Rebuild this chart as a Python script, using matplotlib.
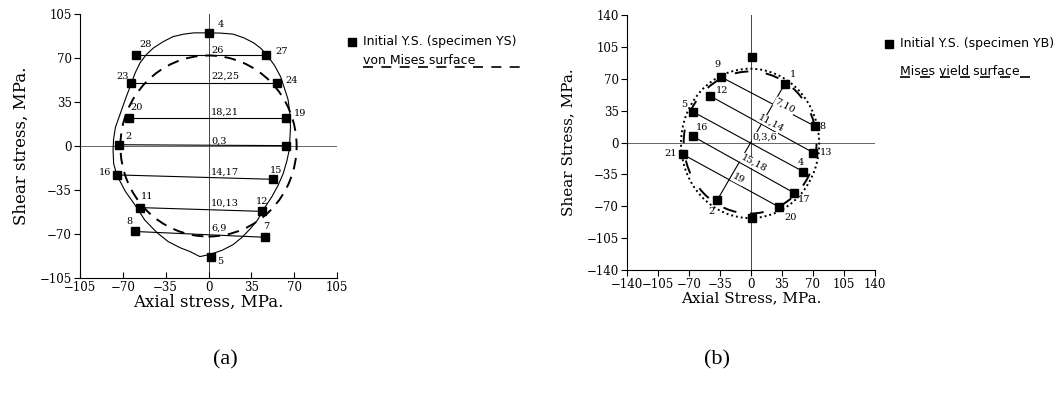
import matplotlib.pyplot as plt
from matplotlib.patches import Ellipse
from matplotlib.lines import Line2D

# ---- panel (a): specimen YS ----
a_ids = ['4', '28', '27', '23', '24', '20', '19', '2', '', '16', '15', '11', '12', '8', '7', '5']
a_x = [0, -59, 47, -63, 56, -65, 63, -73, 63, -75, 53, -56, 44, -60, 46, 2]
a_y = [90, 72, 72, 50, 50, 22.5, 22.5, 1, 0.3, -23, -26.5, -49, -52, -68, -72.6, -88]
a_off = [(12, 8), (9, 11), (16, 4), (-9, 7), (15, 3), (8, 10), (14, 4), (9, 8), (0, 0),
         (-12, 2), (3, 9), (7, 11), (0, 10), (-6, 10), (1, 11), (9, -5)]
a_pairs = [(1, 2), (3, 4), (5, 6), (7, 8), (9, 10), (11, 12), (13, 14)]
a_path_labels = ['26', '22,25', '18,21', '0,3', '14,17', '10,13', '6,9']
a_path_label_y = [76, 55.5, 27, 4, -20.5, -45.5, -65.5]
# fitted initial yield surface
a_surf_x = [0, 10, 20, 29, 37, 43, 48, 54, 59, 62, 65, 66.5, 67, 66.5, 66, 64, 61, 57, 52,
            46, 40, 34, 27, 20, 11, 2, -7, -15, -23, -33, -42, -52, -60, -68, -75, -77.5,
            -78, -77.5, -76, -72, -68, -63, -60, -56, -51, -45, -37, -29, -20, -12, -5, 0]
a_surf_y = [90, 89.8, 89, 86, 82, 77.5, 72, 64, 55, 46, 37, 26, 15, 6, -3, -12, -22, -31, -40,
            -49, -59, -66, -73, -78.5, -83, -86, -88, -84, -81, -76, -69, -59, -47, -36, -23, -14,
            -3, 6, 15, 26, 37, 50, 58, 66, 72.5, 78, 83, 87, 89, 90, 90, 90]
a_mises_r = 72

# ---- panel (b): specimen YB ----
b_ids = ['', '9', '1', '12', '5', '16', '21', '8', '13', '4', '17', '2', '20', '']
b_x = [1, -34, 38, -46, -66, -66, -77, 72, 70, 59, 48, -38, 32, 1]
b_y = [94, 72, 64, 51, 34, 7, -13, 18, -11, -32, -55, -63, -71, -83]
b_off = [(0, 0), (-3, 12), (8, 10), (12, 6), (-8, 7), (9, 9), (-12, 1), (8, 0), (13, 0),
         (-2, 9), (11, -7), (-6, -12), (11, -10), (0, 0)]
b_pairs = [(1, 7), (3, 8), (4, 9), (5, 10), (6, 12), (2, 11)]
b_path_labels = ['7,10', '11,14', '0,3,6', '15,18', '19']
b_path_lx = [38, 23, 16, 3, -14]
b_path_ly = [40, 21, 6, -23, -40]
b_path_rot = [-28, -28, 0, -28, -28]

serif = 'DejaVu Serif'
sans = 'DejaVu Sans'

fig = plt.figure(figsize=(10.53, 3.99), dpi=100)


def style_axes(ax, lim, step, xdir):
    ax.set_xlim(-lim, lim)
    ax.set_ylim(-lim, lim)
    ticks = list(range(-lim, lim + 1, step))
    ax.set_xticks(ticks)
    ax.set_yticks(ticks)
    ax.set_xticklabels([str(t).replace('-', '\u2212') for t in ticks], family=serif, fontsize=8.5)
    ax.set_yticklabels([str(t).replace('-', '\u2212') for t in ticks], family=serif, fontsize=8.5)
    for s in ['top', 'right']:
        ax.spines[s].set_visible(False)
    for s in ['left', 'bottom']:
        ax.spines[s].set_linewidth(0.8)
    ax.tick_params(axis='x', direction=xdir, length=4, width=0.8, pad=2)
    ax.tick_params(axis='y', direction='out', length=4, width=0.8, pad=2)
    ax.axhline(0, color='#666666', lw=0.7, zorder=1)
    ax.axvline(0, color='#444444', lw=0.7, zorder=1)


# panel (a)
ax1 = fig.add_axes([80 / 1053, 1 - 278 / 399, 257 / 1053, 264 / 399])
style_axes(ax1, 105, 35, 'in')
ax1.plot(a_surf_x, a_surf_y, color='black', lw=0.8, zorder=2)
ax1.add_patch(Ellipse((0, 0), 2 * a_mises_r, 2 * a_mises_r, fill=False, ls=(0, (6, 4)),
                      lw=1.4, color='black', zorder=2))
for i, j in a_pairs:
    ax1.plot([a_x[i], a_x[j]], [a_y[i], a_y[j]], color='black', lw=0.8, zorder=2)
ax1.plot(a_x, a_y, 's', color='black', ms=5.5, zorder=3)
for k, lab in enumerate(a_ids):
    if lab:
        ax1.annotate(lab, (a_x[k], a_y[k]), xytext=a_off[k], textcoords='offset pixels',
                     family=serif, fontsize=7, ha='center', va='center')
for lab, yy in zip(a_path_labels, a_path_label_y):
    ax1.text(2, yy, lab, family=serif, fontsize=7, ha='left', va='center')
ax1.set_xlabel('Axial stress, MPa.', family=serif, fontsize=12, labelpad=0)
ax1.set_ylabel('Shear stress, MPa.', family=serif, fontsize=12, labelpad=7)

# panel (b)
ax2 = fig.add_axes([627 / 1053, 1 - 270 / 399, 248 / 1053, 255 / 399])
style_axes(ax2, 140, 35, 'out')
ax2.add_patch(Ellipse((-1, -1), 156, 164, fill=False, ls=(0, (1, 1.5)), lw=1.4,
                      color='black', zorder=2))
ax2.add_patch(Ellipse((-1, 0), 150, 156, fill=False, ls=(0, (7, 9)), lw=1.4,
                      color='black', zorder=2))
for i, j in b_pairs:
    ax2.plot([b_x[i], b_x[j]], [b_y[i], b_y[j]], color='black', lw=0.8, zorder=2)
ax2.plot(b_x, b_y, 's', color='black', ms=5.5, zorder=3)
for k, lab in enumerate(b_ids):
    if lab:
        ax2.annotate(lab, (b_x[k], b_y[k]), xytext=b_off[k], textcoords='offset pixels',
                     family=serif, fontsize=7, ha='center', va='center')
for lab, xx, yy, rot in zip(b_path_labels, b_path_lx, b_path_ly, b_path_rot):
    ax2.text(xx, yy, lab, family=serif, fontsize=7, ha='center', va='center', rotation=rot,
             bbox=dict(fc='white', ec='none', pad=0.3))
ax2.set_xlabel('Axial Stress, MPa.', family=serif, fontsize=11, labelpad=0)
ax2.set_ylabel('Shear Stress, MPa.', family=serif, fontsize=11, labelpad=8)

# overlay in pixel coordinates for legends and panel captions
ov = fig.add_axes([0, 0, 1, 1], zorder=-1)
ov.set_xlim(0, 1053)
ov.set_ylim(399, 0)
ov.axis('off')

ov.plot([352], [42], 's', color='black', ms=5.5)
ov.text(363, 42, 'Initial Y.S. (specimen YS)', family=sans, fontsize=9, va='center')
ov.text(363, 61, 'von Mises surface', family=sans, fontsize=9, va='center')
ov.add_line(Line2D([363, 520], [67, 67], color='black', lw=1.2, ls=(0, (6, 5))))

ov.plot([889], [44], 's', color='black', ms=5.5)
ov.text(900, 44, 'Initial Y.S. (specimen YB)', family=sans, fontsize=9, va='center')
ov.text(900, 71, 'Mises yield surface', family=sans, fontsize=9, va='center')
ov.add_line(Line2D([900, 1040], [77, 77], color='black', lw=1.2, ls=(0, (6, 6))))

ov.text(225, 360, '(a)', family='Liberation Serif', fontsize=16, ha='center', va='center')
ov.text(717, 360, '(b)', family='Liberation Serif', fontsize=16, ha='center', va='center')

fig.savefig('out.png', dpi=100)
